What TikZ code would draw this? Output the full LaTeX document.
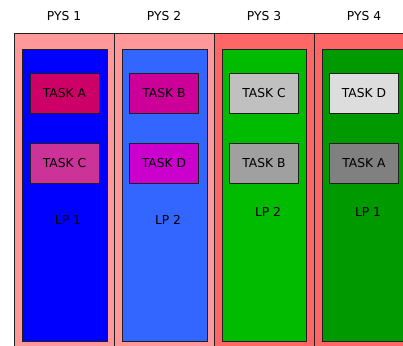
\documentclass[tikz,border=0pt]{standalone}
\usepackage{fontspec}
\setmainfont{DejaVu Sans}
\definecolor{pinkA}{HTML}{FF9999}
\definecolor{pinkB}{HTML}{FF6666}
\definecolor{lpblue}{HTML}{0000FF}
\definecolor{lplblue}{HTML}{3366FF}
\definecolor{lpgreen}{HTML}{00BB00}
\definecolor{lpdgreen}{HTML}{009900}
\definecolor{tA1}{HTML}{CC0066}
\definecolor{tC1}{HTML}{CC3399}
\definecolor{tB2}{HTML}{CC0099}
\definecolor{tD2}{HTML}{CC00CC}
\definecolor{tC3}{HTML}{C0C0C0}
\definecolor{tB3}{HTML}{A0A0A0}
\definecolor{tD4}{HTML}{DDDDDD}
\definecolor{tA4}{HTML}{808080}
\definecolor{edge}{HTML}{202020}
\begin{document}
\begin{tikzpicture}[x=1pt,y=-1pt,
  pys/.style={draw=edge,line width=0.9pt},
  lp/.style={draw=edge,line width=0.9pt},
  task/.style={draw=edge,line width=0.9pt,minimum width=69pt,minimum height=40pt,inner sep=0pt,font=\fontsize{12.3}{13}\selectfont},
  head/.style={font=\fontsize{12.3}{13}\selectfont},
  lbl/.style={font=\fontsize{12.3}{13}\selectfont}]
\useasboundingbox (0,0) rectangle (403,345);
\clip (0,0) rectangle (403,345);
% physical machines
\filldraw[pys,fill=pinkA] (14,33) rectangle (114,360);
\filldraw[pys,fill=pinkA] (114,33) rectangle (214,360);
\filldraw[pys,fill=pinkB] (214,33) rectangle (314,360);
\filldraw[pys,fill=pinkB] (314,33) rectangle (414,360);
\node[head] (h1) at (64,16) {PYS 1};
\node[head] (h2) at (164,16) {PYS 2};
\node[head] (h3) at (264,16) {PYS 3};
\node[head] (h4) at (364,16) {PYS 4};
% logical partitions
\filldraw[lp,fill=lpblue] (22,49) rectangle (107,341);
\filldraw[lp,fill=lplblue] (122,49) rectangle (207,341);
\filldraw[lp,fill=lpgreen] (222,49) rectangle (306,341);
\filldraw[lp,fill=lpdgreen] (322,49) rectangle (410,341);
% tasks
\node[task,fill=tA1] (a1) at (64.5,93) {TASK A};
\node[task,fill=tC1] (c1) at (64.5,163.5) {TASK C};
\node[task,fill=tB2] (b2) at (164,93) {TASK B};
\node[task,fill=tD2] (d2) at (164,163.5) {TASK D};
\node[task,fill=tC3] (c3) at (264,93) {TASK C};
\node[task,fill=tB3] (b3) at (264,163.5) {TASK B};
\node[task,fill=tD4] (d4) at (364,93) {TASK D};
\node[task,fill=tA4] (a4) at (364,163.5) {TASK A};
% LP labels
\node[lbl] (l1) at (68,220) {LP 1};
\node[lbl] (l2) at (168,220) {LP 2};
\node[lbl] (l3) at (268,212) {LP 2};
\node[lbl] (l4) at (368,212) {LP 1};
\end{tikzpicture}
\end{document}
